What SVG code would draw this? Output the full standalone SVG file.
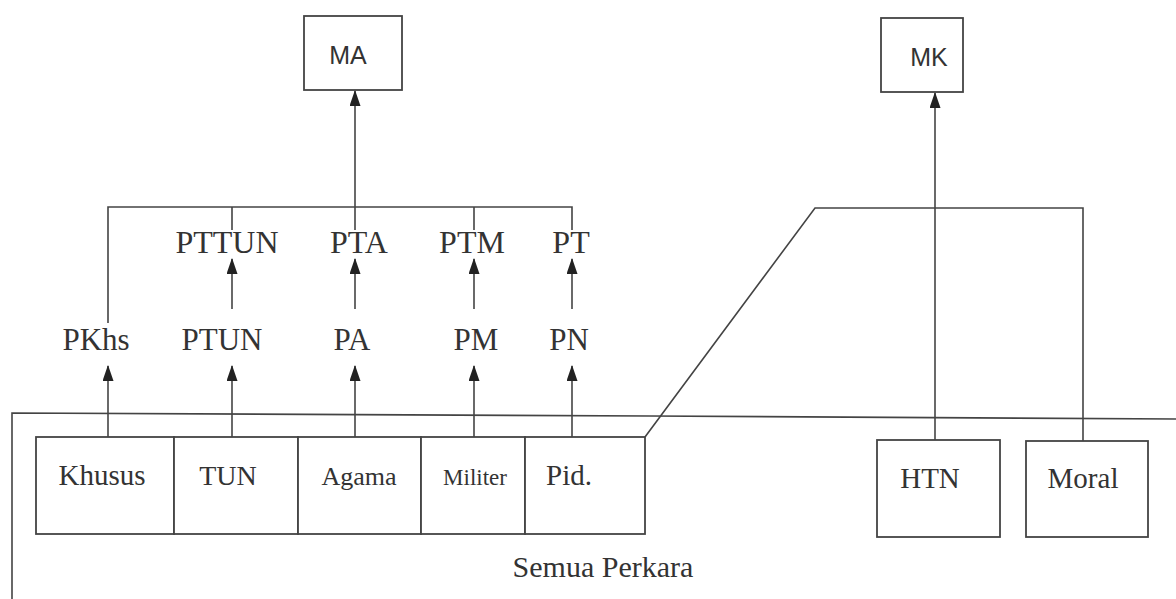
<svg xmlns="http://www.w3.org/2000/svg" width="1176" height="599" viewBox="0 0 1176 599">
<style>
.ln{fill:none;stroke:#444;stroke-width:1.6}
.bx{fill:#fff;stroke:#444;stroke-width:1.8}
.t{font-family:"Liberation Serif","Times New Roman",serif;fill:#333;text-anchor:middle}
.s{font-family:"Liberation Sans",Arial,sans-serif;fill:#333;text-anchor:middle}
.ar{fill:none;stroke:#444;stroke-width:1.6;marker-end:url(#ah)}
</style>
<defs>
<marker id="ah" viewBox="0 0 16 11" refX="15" refY="5.5" markerWidth="16" markerHeight="11" markerUnits="userSpaceOnUse" orient="auto">
<path d="M0,0 L16,5.5 L0,11 Z" fill="#222"/>
</marker>
</defs>
<rect width="1176" height="599" fill="#fff"/>
<g id="semua-perkara">
<path class="ln" d="M12,605 L12,413 L650,416 L1176,419"/>
<text class="t" x="603" y="577" font-size="30">Semua Perkara</text>
</g>
<g id="connectors">
<path class="ln" d="M108,323 L108,207 L572,207 L572,230 M232,207 L232,230 M474,207 L474,230 M355,207 L355,230"/>
<path class="ar" d="M355,207 L355,91"/>
<path class="ar" d="M232,309 L232,259"/>
<path class="ar" d="M355,309 L355,259"/>
<path class="ar" d="M474,309 L474,259"/>
<path class="ar" d="M572,309 L572,259"/>
<path class="ar" d="M108,437 L108,366"/>
<path class="ar" d="M232,437 L232,366"/>
<path class="ar" d="M355,437 L355,366"/>
<path class="ar" d="M474,437 L474,366"/>
<path class="ar" d="M572,437 L572,366"/>
<path class="ln" d="M645,437 L815,208 L1083,208 L1083,441"/>
<path class="ar" d="M935,440 L935,93"/>
</g>
<g id="MA"><rect class="bx" x="304" y="16" width="98" height="74"/><text class="s" x="348" y="64" font-size="25">MA</text></g>
<g id="MK"><rect class="bx" x="881" y="18" width="82" height="74"/><text class="s" x="929" y="66" font-size="25">MK</text></g>
<g id="PTTUN"><text class="t" x="227" y="253" font-size="32">PTTUN</text></g>
<g id="PTA"><text class="t" x="359" y="253" font-size="32">PTA</text></g>
<g id="PTM"><text class="t" x="472" y="253" font-size="32">PTM</text></g>
<g id="PT"><text class="t" x="571" y="253" font-size="32">PT</text></g>
<g id="PKhs"><text class="t" x="96" y="350" font-size="31">PKhs</text></g>
<g id="PTUN"><text class="t" x="222" y="350" font-size="31">PTUN</text></g>
<g id="PA"><text class="t" x="352" y="350" font-size="31">PA</text></g>
<g id="PM"><text class="t" x="476" y="350" font-size="31">PM</text></g>
<g id="PN"><text class="t" x="569" y="350" font-size="31">PN</text></g>
<g id="Khusus"><rect class="bx" x="36" y="437" width="138" height="97"/><text class="t" x="102" y="485" font-size="29">Khusus</text></g>
<g id="TUN"><rect class="bx" x="174" y="437" width="124" height="97"/><text class="t" x="228" y="485" font-size="28">TUN</text></g>
<g id="Agama"><rect class="bx" x="298" y="437" width="123" height="97"/><text class="t" x="359" y="485" font-size="26">Agama</text></g>
<g id="Militer"><rect class="bx" x="421" y="437" width="104" height="97"/><text class="t" x="475" y="485" font-size="23">Militer</text></g>
<g id="Pid"><rect class="bx" x="525" y="437" width="120" height="97"/><text class="t" x="569" y="485" font-size="29">Pid.</text></g>
<g id="HTN"><rect class="bx" x="877" y="440" width="123" height="97"/><text class="t" x="930" y="488" font-size="29">HTN</text></g>
<g id="Moral"><rect class="bx" x="1026" y="441" width="122" height="96"/><text class="t" x="1083" y="488" font-size="29">Moral</text></g>
</svg>
